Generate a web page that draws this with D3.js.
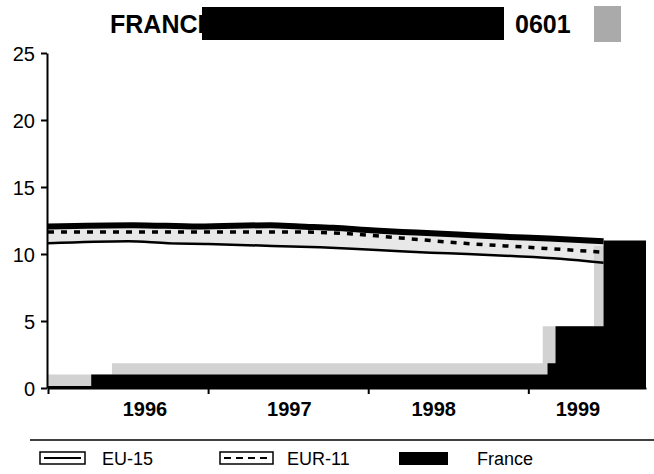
<!DOCTYPE html>
<html>
<head>
<meta charset="utf-8">
<script src="https://cdn.jsdelivr.net/npm/d3@7"></script>
<style>
  body { margin: 0; background: #fff; }
  svg { font-family: "Liberation Sans", Arial, sans-serif; }
</style>
</head>
<body>
<svg id="chart" width="654" height="474"></svg>
<script>
// series values (x in decimal years)
const eu15 = [[1996.0, 10.8], [1996.5, 10.95], [1996.75, 10.8], [1997.0, 10.75], [1997.4, 10.6], [1997.7, 10.5],
  [1997.9, 10.4], [1998.2, 10.2], [1998.5, 10.05], [1998.9, 9.85], [1999.2, 9.65], [1999.47, 9.35]];
const eur11 = [[1996.0, 11.65], [1996.5, 11.65], [1997.0, 11.65], [1997.5, 11.65], [1997.9, 11.5], [1998.2, 11.2],
  [1998.6, 10.8], [1999.0, 10.5], [1999.45, 10.15]];
const france = [[1996.0, 12.05], [1996.53, 12.15], [1996.94, 12.05], [1997.39, 12.15], [1997.57, 12.05], [1997.78, 11.95],
  [1998.04, 11.75], [1998.3, 11.6], [1998.56, 11.45], [1998.82, 11.3], [1999.13, 11.15], [1999.47, 10.95]];
// bottom step blocks (start year, value), last one ends at xEnd
const franceSteps = [[1996.0, 0.15], [1996.27, 1.0], [1999.12, 1.85], [1999.17, 4.6], [1999.47, 11.0]];
const greySteps = [[1996.0, 1.0], [1996.4, 1.85], [1999.09, 4.6], [1999.41, 10.6]];
const xEnd = 1999.735;
const yTicks = [0, 5, 10, 15, 20, 25];
const yearTicks = [1997, 1998, 1999];
const yearLabels = ['1996', '1997', '1998', '1999'];
const legendItems = ['EU-15', 'EUR-11', 'France'];

const svg = d3.select('#chart');
const x = d3.scaleLinear().domain([1996, xEnd]).range([48, 646]);
const y = d3.scaleLinear().domain([0, 25]).range([388, 53]);
const xl = d3.scalePoint().domain(yearLabels).range([145, 578]);

// title
svg.append('text').attr('x', 110).attr('y', 33).attr('font-size', 25).attr('font-weight', 'bold').text('FRANCE');
svg.append('rect').attr('x', 202).attr('y', 7).attr('width', 302).attr('height', 33).attr('fill', '#000');
svg.append('text').attr('x', 515).attr('y', 33).attr('font-size', 25).attr('font-weight', 'bold').text('0601');
svg.append('rect').attr('x', 594).attr('y', 6).attr('width', 27).attr('height', 36).attr('fill', '#aaa');

// grey band between France and EU-15
const fr = d3.scaleLinear().domain(france.map(d => d[0])).range(france.map(d => d[1]));
svg.append('path')
  .datum(eu15)
  .attr('fill', '#e8e8e8')
  .attr('d', d3.area().x(d => x(d[0])).y0(d => y(d[1])).y1(d => y(fr(d[0]) + 0.1)));

// bottom steps
function stepArea(steps) {
  const pts = [];
  steps.forEach((s, i) => {
    const end = i < steps.length - 1 ? steps[i + 1][0] : xEnd;
    pts.push([s[0], s[1]], [end, s[1]]);
  });
  return d3.area().x(d => x(d[0])).y0(y(0)).y1(d => y(d[1]))(pts);
}
svg.append('path').attr('d', stepArea(greySteps)).attr('fill', '#d2d2d2');
svg.append('path').attr('d', stepArea(franceSteps)).attr('fill', '#000');

// lines
const line = d3.line().x(d => x(d[0])).y(d => y(d[1])).curve(d3.curveMonotoneX);
svg.append('path').datum(france).attr('d', line).attr('fill', 'none').attr('stroke', '#000').attr('stroke-width', 6);
svg.append('path').datum(eu15).attr('d', line).attr('fill', 'none').attr('stroke', '#000').attr('stroke-width', 2.5);
svg.append('path').datum(eur11).attr('d', line).attr('fill', 'none').attr('stroke', '#000')
  .attr('stroke-width', 3.5).attr('stroke-dasharray', '6,7');

// y axis
const ya = svg.append('g').attr('transform', `translate(${x(1996) - 1},0)`)
  .call(d3.axisLeft(y).tickValues(yTicks).tickSize(6).tickSizeOuter(0).tickPadding(6));
ya.select('.domain').attr('stroke-width', 2);
ya.selectAll('line').attr('stroke-width', 2);
ya.selectAll('text').attr('font-size', 20).attr('font-family', '"Liberation Sans", Arial, sans-serif').attr('dy', '0.36em');

// x axis
const xa = svg.append('g').attr('transform', `translate(0,${y(0)})`)
  .call(d3.axisBottom(x).tickValues([1996].concat(yearTicks)).tickSize(6).tickSizeOuter(0).tickFormat(''));
xa.select('.domain').attr('stroke-width', 2);
xa.selectAll('line').attr('stroke-width', 2);

svg.append('g').selectAll('text').data(yearLabels).join('text')
  .attr('x', d => xl(d)).attr('y', 416).attr('text-anchor', 'middle')
  .attr('font-size', 20).attr('font-weight', 'bold').text(d => d);

// legend
svg.append('line').attr('x1', 30).attr('x2', 654).attr('y1', 440).attr('y2', 440).attr('stroke', '#000').attr('stroke-width', 1.5);
const lg = svg.append('g');
const boxX = [40, 220, 399];
const labelX = [102, 287, 477];
legendItems.forEach((name, i) => {
  const bx = boxX[i];
  if (name === 'France') {
    lg.append('rect').attr('x', bx).attr('y', 452).attr('width', 49).attr('height', 13).attr('fill', '#000');
  } else {
    lg.append('rect').attr('x', bx).attr('y', 452).attr('width', name === 'EU-15' ? 45 : 53).attr('height', 12)
      .attr('fill', '#fff').attr('stroke', '#000').attr('stroke-width', 1.5);
    lg.append('line').attr('x1', bx + 4).attr('x2', bx + (name === 'EU-15' ? 41 : 49)).attr('y1', 458).attr('y2', 458)
      .attr('stroke', '#000').attr('stroke-width', 2)
      .attr('stroke-dasharray', name === 'EUR-11' ? '7,5' : null);
  }
  lg.append('text').attr('x', labelX[i]).attr('y', 465).attr('font-size', 18).text(name);
});
</script>
</body>
</html>
